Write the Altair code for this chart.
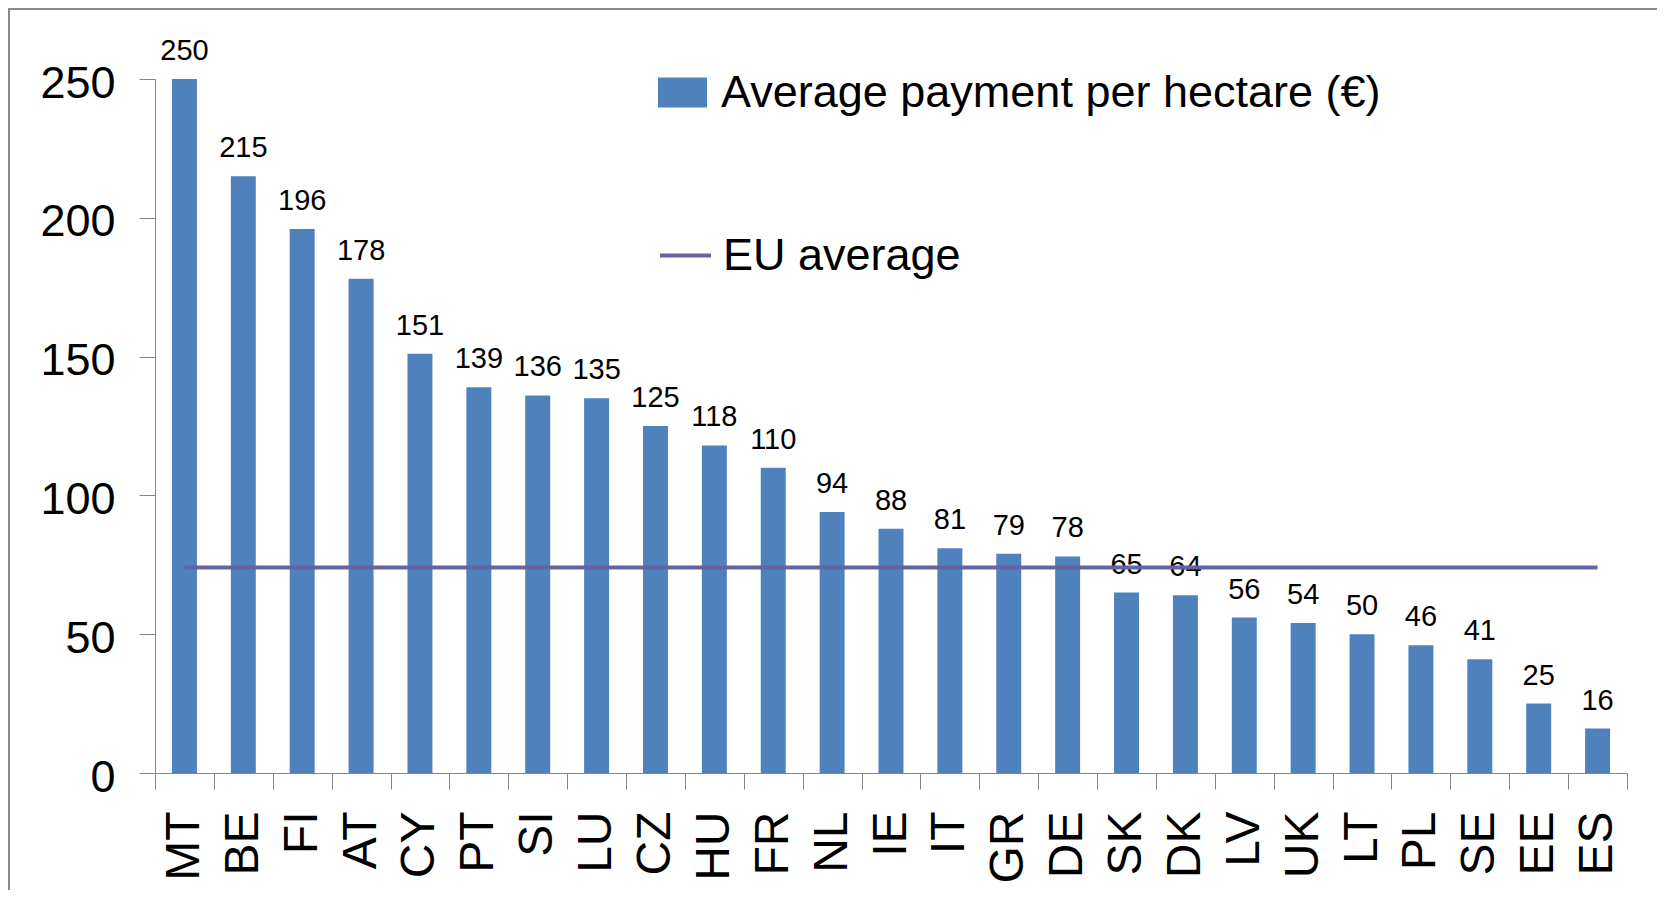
import altair as alt
import pandas as pd

countries = ["MT", "BE", "FI", "AT", "CY", "PT", "SI", "LU", "CZ", "HU", "FR", "NL", "IE",
             "IT", "GR", "DE", "SK", "DK", "LV", "UK", "LT", "PL", "SE", "EE", "ES"]
payments = [250, 215, 196, 178, 151, 139, 136, 135, 125, 118, 110, 94, 88,
            81, 79, 78, 65, 64, 56, 54, 50, 46, 41, 25, 16]
eu_average = 74
bar_series = "Average payment per hectare (€)"
line_series = "EU average"
y_ticks = [0, 50, 100, 150, 200, 250]

BAR_COLOR = "#4F81BD"
LINE_COLOR = "#6464A4"
AXIS_COLOR = "#868686"
FONT = "Liberation Sans"

df = pd.DataFrame({
    "country": countries,
    "payment": payments,
    "eu": [eu_average] * len(countries),
    "s1": [bar_series] * len(countries),
    "s2": [line_series] * len(countries),
})

x_enc = alt.X(
    "country:N", sort=countries, title=None,
    scale=alt.Scale(paddingInner=0, paddingOuter=0),
    axis=alt.Axis(
        tickBand="extent", tickSize=16, tickColor=AXIS_COLOR, domainColor=AXIS_COLOR,
        labelAngle=270, labelFontSize=48, labelFont=FONT, labelColor="black",
        labelPadding=22, grid=False,
    ),
)
y_scale = alt.Scale(domain=[0, 250], nice=False)
y_axis = alt.Axis(
    values=y_ticks, tickSize=16, tickColor=AXIS_COLOR, domainColor=AXIS_COLOR,
    labelFontSize=45, labelFont=FONT, labelColor="black", labelPadding=24,
    labelOffset=4, grid=False, title=None,
)

base = alt.Chart(df)

bars = base.mark_bar(width=alt.RelativeBandSize(0.424)).encode(
    x=x_enc,
    y=alt.Y("payment:Q", scale=y_scale, axis=y_axis),
    fill=alt.Fill(
        "s1:N", scale=alt.Scale(domain=[bar_series], range=[BAR_COLOR]),
        legend=alt.Legend(
            title=None, orient="none", legendX=503, legendY=-11, padding=0,
            symbolType="M-1,-0.61H1V0.61H-1Z", symbolSize=2401, symbolStrokeWidth=0,
            labelFontSize=45, labelFont=FONT, labelColor="black", labelOffset=14,
            labelLimit=900,
        ),
    ),
)

labels = base.mark_text(
    fontSize=29, font=FONT, color="black", baseline="alphabetic", dy=-19
).encode(
    x=x_enc,
    y=alt.Y("payment:Q", scale=y_scale, axis=y_axis),
    text="payment:Q",
)

line = base.mark_line(strokeWidth=4).encode(
    x=x_enc,
    y=alt.Y("eu:Q", scale=y_scale, axis=y_axis),
    stroke=alt.Stroke(
        "s2:N", scale=alt.Scale(domain=[line_series], range=[LINE_COLOR]),
        legend=alt.Legend(
            title=None, orient="none", legendX=503, legendY=149, padding=0,
            symbolType="stroke", symbolSize=2601, symbolStrokeWidth=4,
            labelFontSize=45, labelFont=FONT, labelColor="black", labelOffset=10,
            labelLimit=900,
        ),
    ),
)

frame = alt.Chart(alt.Data(values=[{"a": 1}])).mark_rect(
    fill=None, stroke="#8A8A8A", strokeWidth=2
).encode(
    x=alt.value(-146), x2=alt.value(1700),
    y=alt.value(-70), y2=alt.value(900),
)

chart = alt.layer(frame, bars, labels, line).properties(
    width=1472, height=694,
    padding={"left": 147, "top": 71, "right": 30, "bottom": 117},
    autosize=alt.AutoSizeParams(type="none"),
).configure_view(stroke=None).resolve_scale(y="shared")

chart.save("out.html", embed_options={"renderer": "svg", "actions": False})
